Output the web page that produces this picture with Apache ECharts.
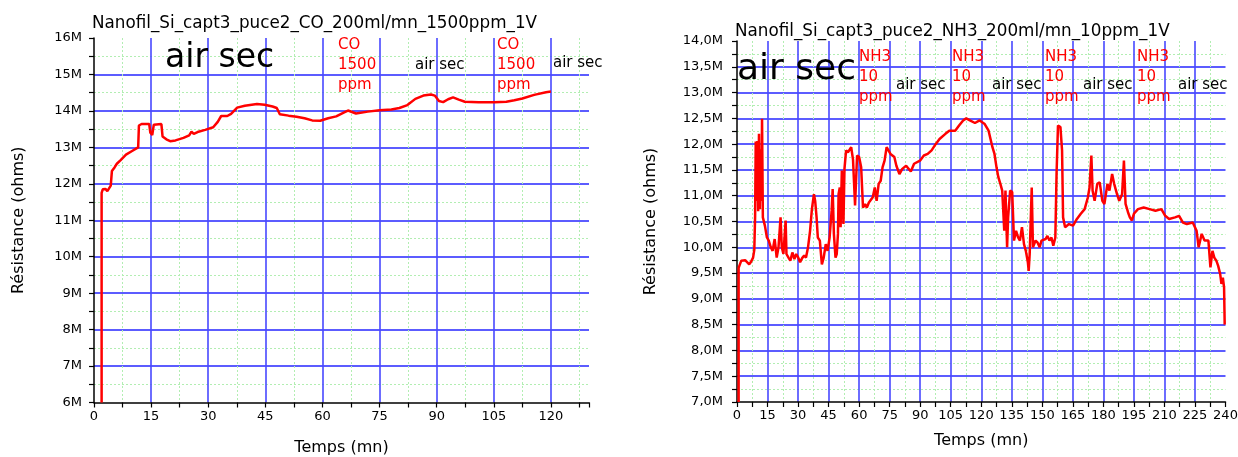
<!DOCTYPE html>
<html>
<head>
<meta charset="utf-8">
<script src="https://cdn.jsdelivr.net/npm/echarts@6.0.0/dist/echarts.min.js"></script>
<style>html,body{margin:0;padding:0;background:#fff;}#c{width:1238px;height:457px;}</style>
</head>
<body>
<div id="c"></div>
<script>
// ---- DATA (resistance in MΩ, time in minutes) ----
const coTitle = 'Nanofil_Si_capt3_puce2_CO_200ml/mn_1500ppm_1V';
const nh3Title = 'Nanofil_Si_capt3_puce2_NH3_200ml/mn_10ppm_1V';
const coTime = [2, 2, 2.3, 3.0, 3.5, 4.0, 4.4, 4.7, 5.0, 5.4, 6.0, 7.0, 8.4, 10.0, 11.6, 11.8, 12.5, 14.5, 14.8, 15.3, 15.7, 17.7, 18.0, 19.0, 20.0, 21.4, 23.5, 25.0, 25.6, 26.2, 27.2, 29.2, 31.3, 32.5, 33.4, 35.0, 36.0, 37.6, 39.6, 42.8, 44.8, 46.9, 48.0, 48.8, 51.1, 53.2, 55.3, 57.3, 59.4, 61.5, 63.6, 65.7, 66.7, 68.8, 71.9, 75.0, 78.1, 80.2, 82.3, 84.4, 86.5, 88.5, 89.5, 90.6, 91.7, 93.0, 94.3, 95.8, 97.4, 101, 105.2, 108.3, 110.4, 112.5, 115.6, 118.7, 120];
const coValue = [6.0, 11.75, 11.85, 11.86, 11.8, 11.82, 11.95, 12.35, 12.4, 12.45, 12.55, 12.65, 12.8, 12.9, 13.0, 13.6, 13.64, 13.64, 13.4, 13.34, 13.62, 13.64, 13.3, 13.22, 13.17, 13.19, 13.26, 13.33, 13.43, 13.37, 13.42, 13.48, 13.55, 13.7, 13.86, 13.86, 13.92, 14.09, 14.14, 14.19, 14.17, 14.12, 14.08, 13.91, 13.87, 13.84, 13.8, 13.74, 13.73, 13.8, 13.85, 13.96, 14.01, 13.93, 13.98, 14.02, 14.04, 14.08, 14.16, 14.33, 14.42, 14.45, 14.42, 14.27, 14.24, 14.32, 14.37, 14.31, 14.25, 14.24, 14.24, 14.25, 14.29, 14.34, 14.44, 14.51, 14.53];
const nh3Time = [0.8, 0.8, 2.1, 4, 6, 6.9, 7.9, 8.5, 8.9, 9.2, 9.6, 10.0, 10.4, 10.8, 11.2, 11.6, 12.0, 12.3, 12.7, 13.7, 14.7, 15.6, 16.6, 17.5, 18.5, 19.5, 20.4, 21.4, 22, 22.8, 23.9, 24.3, 25.3, 26.2, 27.2, 28.2, 29.1, 30.1, 31, 32, 33, 33.9, 34.9, 35.9, 36.8, 37.8, 38.4, 39.1, 39.7, 40.7, 41.7, 42.6, 43.6, 44.5, 45.5, 46.5, 47, 47.6, 48.4, 49, 49.6, 49.9, 50.5, 50.9, 51.5, 52.3, 52.8, 53.6, 54.5, 56.1, 57, 58, 59, 60, 61, 61.9, 62.9, 63.8, 64.8, 66.7, 67.7, 68.6, 69.6, 70.6, 71.5, 72.5, 73.5, 74.1, 75.4, 77.3, 78.3, 79.8, 81.2, 83.1, 85.4, 87, 89.9, 91.8, 93.7, 95.6, 97.6, 99.5, 102.4, 104.3, 107.2, 109.1, 111.1, 112.6, 114.9, 116.9, 119.2, 121.7, 123.6, 125.5, 126.5, 127.5, 128.4, 129.4, 130.3, 131.3, 131.9, 132.7, 133.2, 134.2, 135.2, 136.1, 137.1, 138.1, 139, 140, 141, 141.9, 142.9, 143.3, 143.8, 144.8, 145.4, 146.7, 147.7, 148.7, 149.6, 151.6, 152.5, 153.5, 154.5, 155.4, 156.4, 157, 157.7, 158.9, 159.7, 160.2, 161.2, 163.1, 165.1, 167, 168.9, 170.8, 172.4, 173.2, 174.1, 174.7, 175.7, 177, 178.2, 179.5, 180.5, 182, 183, 184.3, 185.3, 186.7, 187.8, 189.2, 190.1, 190.9, 192.1, 193, 194, 195, 197, 199.8, 202.7, 205.6, 208.5, 210.4, 212.3, 215.2, 217.2, 219.1, 221, 223.9, 225.8, 226.8, 228.3, 229.7, 231.6, 232.6, 233.6, 234.5, 235.5, 236.4, 237.4, 238, 238.7, 239.3, 239.6];
const nh3Value = [7.0, 9.6, 9.74, 9.75, 9.67, 9.72, 9.8, 9.95, 10.6, 12.05, 10.9, 12.06, 10.7, 12.2, 10.74, 11.9, 10.9, 12.49, 10.58, 10.42, 10.19, 10.13, 10.0, 9.93, 10.16, 9.8, 10.0, 10.58, 10.0, 9.87, 10.52, 9.87, 9.8, 9.74, 9.9, 9.77, 9.87, 9.8, 9.71, 9.79, 9.84, 9.8, 10.0, 10.32, 10.74, 11.03, 10.9, 10.58, 10.19, 10.13, 9.67, 9.8, 10.06, 9.93, 10.19, 10.71, 11.13, 10.26, 9.8, 9.87, 10.26, 11.03, 11.16, 10.39, 11.49, 10.45, 11.52, 11.88, 11.84, 11.94, 11.7, 10.81, 11.78, 11.75, 11.55, 10.77, 10.84, 10.77, 10.87, 10.97, 11.16, 10.9, 11.23, 11.29, 11.55, 11.68, 11.94, 11.97, 11.81, 11.75, 11.58, 11.42, 11.52, 11.58, 11.47, 11.62, 11.68, 11.78, 11.81, 11.88, 12.0, 12.1, 12.2, 12.26, 12.26, 12.36, 12.46, 12.5, 12.45, 12.41, 12.46, 12.39, 12.26, 11.94, 11.81, 11.55, 11.36, 11.23, 11.1, 10.32, 11.1, 10.0, 10.58, 11.1, 11.07, 10.13, 10.32, 10.19, 10.13, 10.39, 10.06, 9.93, 9.71, 9.54, 9.87, 11.16, 10.0, 10.13, 10.09, 10.0, 10.13, 10.16, 10.22, 10.13, 10.19, 10.03, 10.19, 11.42, 12.36, 12.33, 11.88, 10.58, 10.39, 10.45, 10.42, 10.55, 10.65, 10.74, 10.97, 11.16, 11.78, 11.1, 10.9, 11.23, 11.26, 10.9, 10.84, 11.23, 11.1, 11.42, 11.23, 11.03, 10.9, 11.03, 11.68, 10.84, 10.68, 10.58, 10.52, 10.65, 10.74, 10.77, 10.74, 10.71, 10.74, 10.61, 10.55, 10.58, 10.61, 10.48, 10.45, 10.48, 10.32, 10.0, 10.26, 10.13, 10.13, 9.61, 9.93, 9.8, 9.74, 9.64, 9.48, 9.29, 9.41, 9.22, 8.5];
const coLabels = [{t: 'air sec', big: true}, {t: 'CO\n1500\nppm', red: true}, {t: 'air sec'}, {t: 'CO\n1500\nppm', red: true}, {t: 'air sec'}];
const nh3Labels = [{t: 'air sec', big: true}, {t: 'NH3\n10\nppm', red: true}, {t: 'air sec'}, {t: 'NH3\n10\nppm', red: true}, {t: 'air sec'}, {t: 'NH3\n10\nppm', red: true}, {t: 'air sec'}, {t: 'NH3\n10\nppm', red: true}, {t: 'air sec'}];

// ---- layout / style ----
const FONT = '"DejaVu Sans", "Liberation Sans", sans-serif';
const BLUE_V = '#4848ff', BLUE_H = '#5c5cff', GREEN = '#b2eeb2';
const coPos = [[165, 58, 33], [338, 35], [415, 65], [497, 35], [553, 63]];
const nh3Pos = [[737, 70, 36], [859, 47], [896, 85], [952, 47], [992, 85], [1045, 47], [1083, 85], [1137, 47], [1178, 85]];

function pairs(xs, ys) { return xs.map((x, i) => [x, ys[i]]); }

function annot(labels, pos) {
  return labels.map((l, i) => ({
    type: 'text', x: pos[i][0], y: pos[i][1], z: 10,
    style: {
      text: l.t, fill: l.red ? '#ff0000' : '#000',
      font: (pos[i][2] || 15) + 'px ' + FONT,
      lineHeight: 20,
      verticalAlign: l.red ? 'top' : 'middle', align: 'left'
    }
  }));
}

const lbl = {color: '#000', fontFamily: FONT, fontSize: 13};
const nameStyle = {color: '#000', fontFamily: FONT, fontSize: 16};
const axLine = {show: true, onZero: false, lineStyle: {color: '#000', width: 1.5}};
const tick = {show: true, length: 5, lineStyle: {color: '#000', width: 1.2}};
const mTick = {show: true, splitNumber: 2, length: 5, lineStyle: {color: '#000', width: 1.2}};
const mSplit = {show: true, lineStyle: {color: GREEN, width: 1, type: [2, 2]}};

function xAx(grid, max, gap, margin, fmt) {
  return {gridIndex: grid, type: 'value', min: 0, max: max, interval: 15, position: 'bottom',
    axisLine: axLine, axisTick: tick, minorTick: mTick, minorSplitLine: mSplit,
    axisLabel: Object.assign({margin: margin, formatter: fmt}, lbl),
    splitLine: {show: true, showMinLine: false, showMaxLine: false, lineStyle: {color: BLUE_V, width: 1.6}},
    name: 'Temps (mn)', nameLocation: 'middle', nameGap: gap, nameTextStyle: nameStyle};
}
function yAx(grid, min, max, iv, gap, margin, fmt) {
  return {gridIndex: grid, type: 'value', min: min, max: max, interval: iv, position: 'left',
    axisLine: axLine, axisTick: tick, minorTick: mTick, minorSplitLine: mSplit,
    axisLabel: Object.assign({margin: margin, formatter: fmt}, lbl),
    splitLine: {show: true, showMinLine: false, showMaxLine: false, lineStyle: {color: BLUE_H, width: 2}},
    name: 'Résistance (ohms)', nameLocation: 'middle', nameRotate: 90, nameGap: gap, nameTextStyle: nameStyle};
}

const chart = echarts.init(document.getElementById('c'), null, {renderer: 'canvas'});
chart.setOption({
  animation: false,
  backgroundColor: '#fff',
  textStyle: {fontFamily: FONT},
  title: [
    {text: coTitle, left: 92, top: 15, padding: 0, textStyle: {fontFamily: FONT, fontSize: 16.8, fontWeight: 'normal', color: '#000'}},
    {text: nh3Title, left: 735, top: 23, padding: 0, textStyle: {fontFamily: FONT, fontSize: 16.8, fontWeight: 'normal', color: '#000'}}
  ],
  grid: [
    {left: 94, top: 38, width: 495, height: 364.5, outerBoundsMode: 'none'},
    {left: 737, top: 41, width: 488.5, height: 361, outerBoundsMode: 'none'}
  ],
  xAxis: [
    xAx(0, 130, 37, 8, v => (v > 120 ? '' : String(v))),
    xAx(1, 240, 31, 7, v => String(v))
  ],
  yAxis: [
    yAx(0, 6, 16, 1, 67, 12, v => v + 'M'),
    yAx(1, 7, 14, 0.5, 78, 14, v => v.toFixed(1).replace('.', ',') + 'M')
  ],
  series: [
    {type: 'line', xAxisIndex: 0, yAxisIndex: 0, data: pairs(coTime, coValue), showSymbol: false, z: 5,
      lineStyle: {color: '#ff0000', width: 2.5}, itemStyle: {color: '#ff0000'}},
    {type: 'line', xAxisIndex: 1, yAxisIndex: 1, data: pairs(nh3Time, nh3Value), showSymbol: false, z: 5,
      lineStyle: {color: '#ff0000', width: 2.5}, itemStyle: {color: '#ff0000'}}
  ],
  graphic: annot(coLabels, coPos).concat(annot(nh3Labels, nh3Pos))
});
</script>
</body>
</html>
